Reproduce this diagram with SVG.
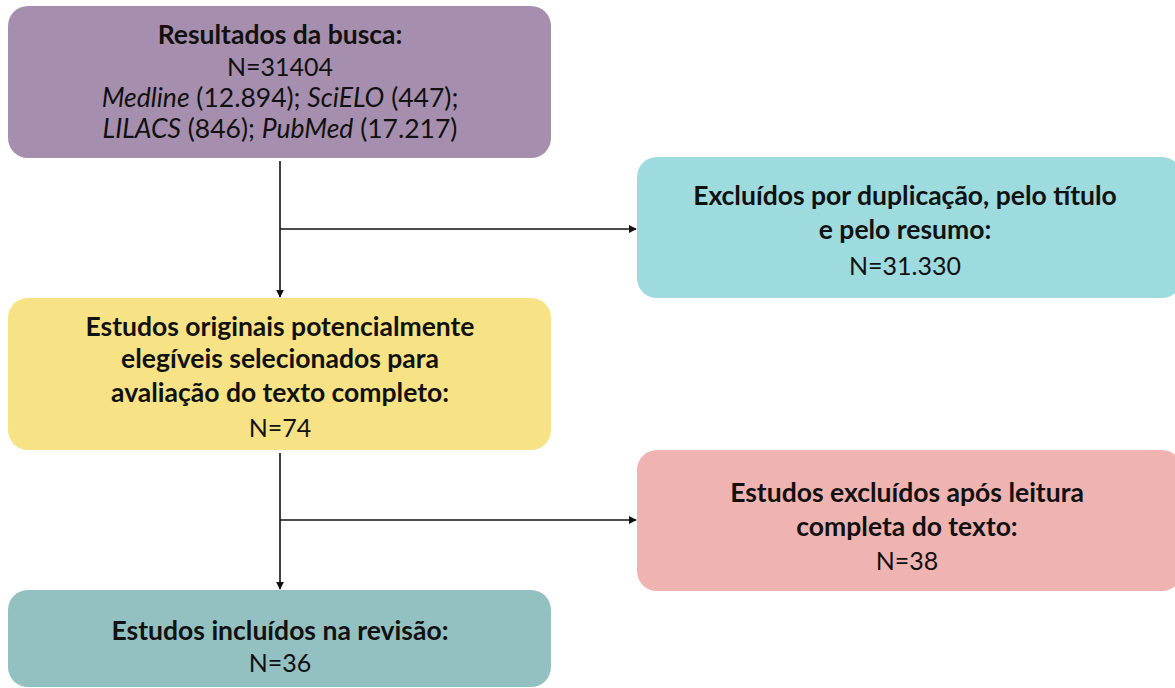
<svg xmlns="http://www.w3.org/2000/svg" width="1175" height="688" viewBox="0 0 1175 688">
<style>
text{font-family:Lato,"Open Sans","Liberation Sans",sans-serif;font-size:26.5px;fill:#111;text-anchor:middle}
.b{font-weight:bold}
.i{font-style:italic}
.n{font-size:25px}
.c{stroke:#111;stroke-width:1.6;fill:none}
</style>
<defs>
<marker id="ah" viewBox="0 0 10 10" refX="9" refY="5" markerWidth="8" markerHeight="8" markerUnits="userSpaceOnUse" orient="auto">
<path d="M0,0 L10,5 L0,10 z" fill="#111"/>
</marker>
</defs>
<rect width="1175" height="688" fill="#fff"/>
<g id="n1">
<rect x="8" y="6" width="543" height="152" rx="20" fill="#A68FAE"/>
<text x="280" y="44" class="b">Resultados da busca:</text>
<text x="280" y="76" class="n">N=31404</text>
<text x="280" y="107"><tspan class="i">Medline</tspan> (12.894); <tspan class="i">SciELO</tspan> (447);</text>
<text x="280" y="138"><tspan class="i">LILACS</tspan> (846); <tspan class="i">PubMed</tspan> (17.217)</text>
</g>
<g id="n2">
<rect x="637" y="157" width="545" height="141" rx="20" fill="#9EDBDE"/>
<text x="905" y="205" class="b">Excluídos por duplicação, pelo título</text>
<text x="905" y="239" class="b">e pelo resumo:</text>
<text x="905" y="275" class="n">N=31.330</text>
</g>
<g id="n3">
<rect x="8" y="298" width="543" height="152" rx="20" fill="#F7E385"/>
<text x="280" y="336" class="b">Estudos originais potencialmente</text>
<text x="280" y="368" class="b">elegíveis selecionados para</text>
<text x="280" y="402" class="b">avaliação do texto completo:</text>
<text x="280" y="437" class="n">N=74</text>
</g>
<g id="n4">
<rect x="637" y="450" width="545" height="141" rx="20" fill="#EFB3B1"/>
<text x="907" y="502" class="b">Estudos excluídos após leitura</text>
<text x="907" y="536" class="b">completa do texto:</text>
<text x="907" y="570" class="n">N=38</text>
</g>
<g id="n5">
<rect x="8" y="590" width="543" height="97" rx="20" fill="#93C0C0"/>
<text x="280" y="640" class="b">Estudos incluídos na revisão:</text>
<text x="280" y="672" class="n">N=36</text>
</g>
<g id="connectors">
<path class="c" d="M280,161 V297" marker-end="url(#ah)"/>
<path class="c" d="M280,229 H636" marker-end="url(#ah)"/>
<path class="c" d="M280,453 V589" marker-end="url(#ah)"/>
<path class="c" d="M280,520 H636" marker-end="url(#ah)"/>
</g>
</svg>
